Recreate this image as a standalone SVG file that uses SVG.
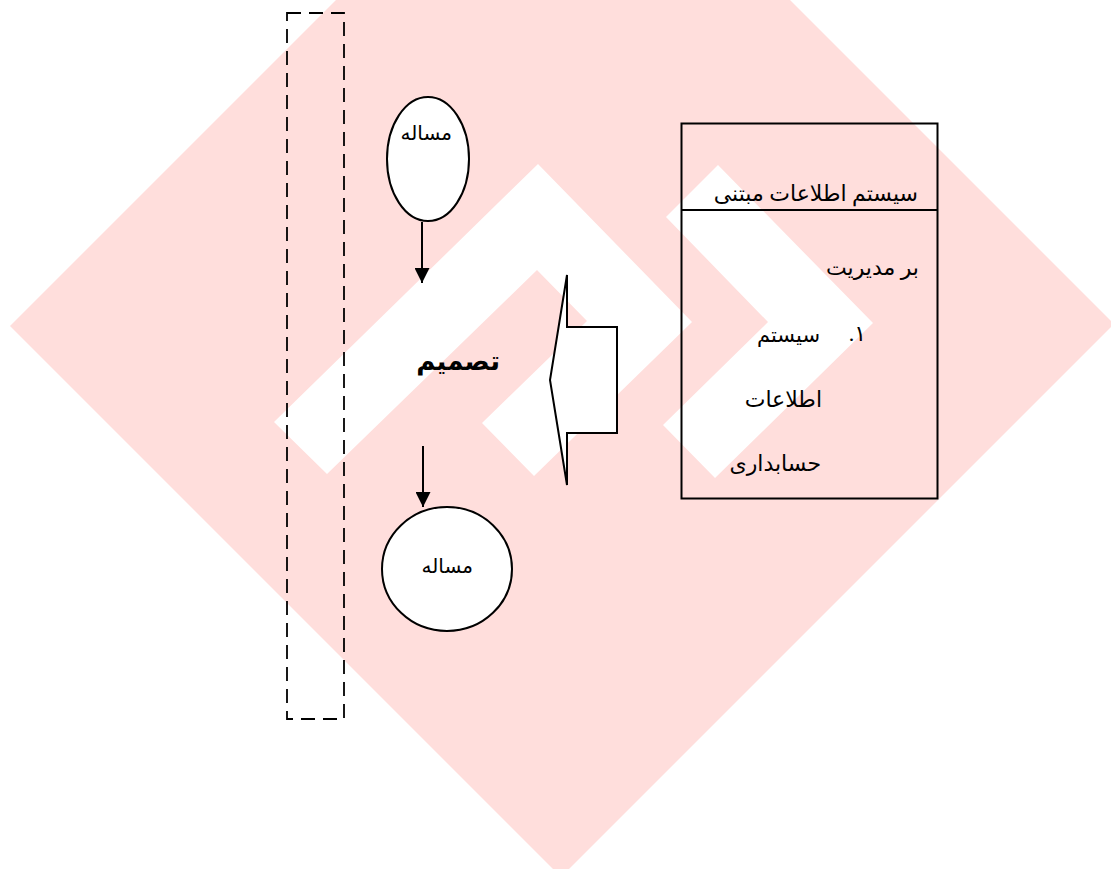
<svg xmlns="http://www.w3.org/2000/svg" width="1111" height="869" viewBox="0 0 1111 869">
<style>
.wm{fill:#FFDEDC;}
.wh{fill:#FFFFFF;}
.ln{fill:none;stroke:#000;stroke-width:2;}
.shape{fill:#FFFFFF;stroke:#000;stroke-width:2;}
.dash{fill:none;stroke:#000;stroke-width:1.8;stroke-dasharray:14 8;}
.t{font-family:"Liberation Serif","DejaVu Sans",serif;fill:#000;}
</style>
<defs>
<marker id="ah" markerWidth="15" markerHeight="15" refX="15" refY="7.5" orient="auto" markerUnits="userSpaceOnUse" viewBox="0 0 15 15">
<path d="M0,0 L15,7.5 L0,15 Z" fill="#000"/>
</marker>
</defs>
<rect x="0" y="0" width="1111" height="869" fill="#FFFFFF"/>
<g id="watermark">
<polygon class="wm" points="563,-227 1114,324 561,877 10,326"/>
<polygon class="wh" points="274,422 538,164 692,322 534,476 482,423 587,321 537,270 327,474"/>
<polygon class="wh" points="718,165 873,323 715,478 663,425 768,322 666,217"/>
</g>
<g id="boundary">
<rect class="dash" x="287" y="13" width="57" height="706"/>
</g>
<g id="connectors">
<line class="ln" x1="422" y1="222" x2="422" y2="283" marker-end="url(#ah)"/>
<line class="ln" x1="423" y1="446" x2="423" y2="507" marker-end="url(#ah)"/>
</g>
<g id="problem-top">
<ellipse class="shape" cx="428" cy="159" rx="41" ry="62"/>
<text class="t" x="452" y="140" font-size="20" text-anchor="end">مساله</text>
</g>
<g id="decision">
<text class="t" x="500" y="370" font-size="26" font-weight="bold" text-anchor="end">تصمیم</text>
</g>
<g id="block-arrow">
<polygon class="shape" points="567,275 567,327 617,327 617,433 567,433 567,485 550,380"/>
</g>
<g id="problem-bottom">
<ellipse class="shape" cx="447" cy="569" rx="65" ry="62"/>
<text class="t" x="473" y="573" font-size="20" text-anchor="end">مساله</text>
</g>
<g id="mis-box">
<rect class="ln" x="681.5" y="123.5" width="256" height="375"/>
<line class="ln" x1="681.5" y1="210" x2="937.5" y2="210"/>
<text class="t" x="918" y="201" font-size="22" text-anchor="end">سیستم اطلاعات مبتنی</text>
<text class="t" x="919" y="275" font-size="22" text-anchor="end">بر مدیریت</text>
<text class="t" x="866" y="341" font-size="22" direction="rtl" text-anchor="start">١.</text>
<text class="t" x="820" y="342" font-size="21" text-anchor="end">سیستم</text>
<text class="t" x="822" y="407" font-size="22" text-anchor="end">اطلاعات</text>
<text class="t" x="821" y="471" font-size="22" text-anchor="end">حسابداری</text>
</g>
</svg>
